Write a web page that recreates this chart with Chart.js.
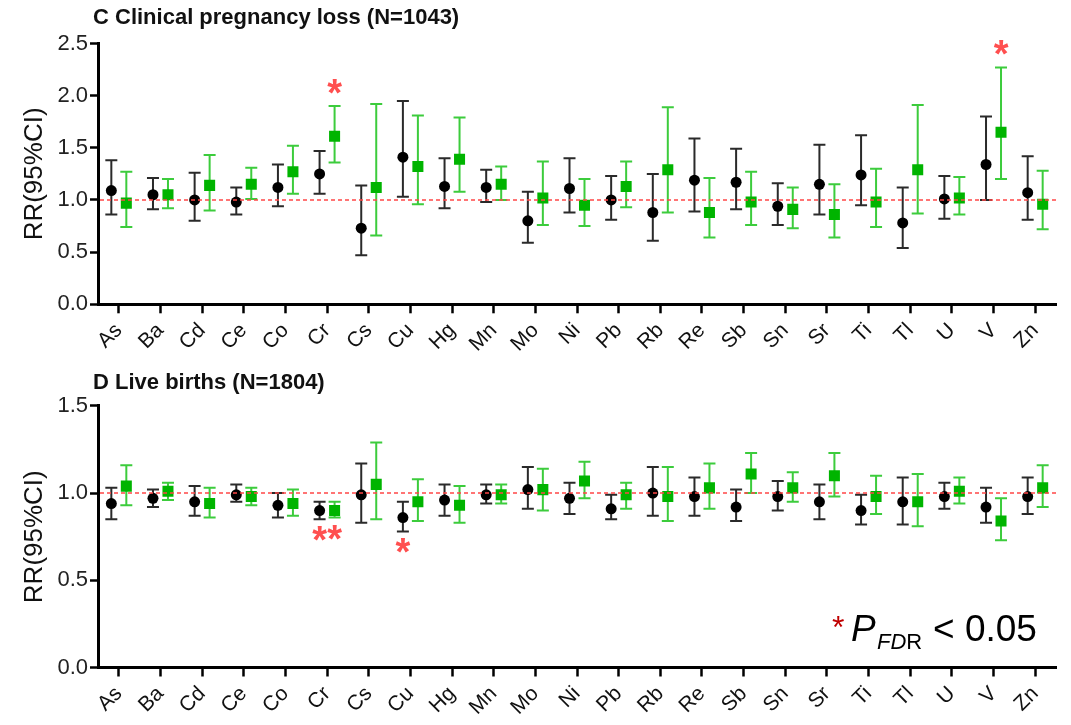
<!DOCTYPE html>
<html>
<head>
<meta charset="utf-8">
<script src="https://cdn.jsdelivr.net/npm/chart.js@4.4.1/dist/chart.umd.min.js"></script>
<style>
  html, body { margin: 0; padding: 0; background: #fff; }
  #wrap { position: relative; width: 1071px; height: 725px; }
  canvas { position: absolute; left: 0; }
</style>
</head>
<body>
<div id="wrap">
  <canvas id="lossChart" width="1071" height="365" style="top:0"></canvas>
  <canvas id="birthChart" width="1071" height="360" style="top:365px"></canvas>
</div>
<script>
const metals = ['As','Ba','Cd','Ce','Co','Cr','Cs','Cu','Hg','Mn','Mo','Ni','Pb','Rb','Re','Sb','Sn','Sr','Ti','Tl','U','V','Zn'];

// C: clinical pregnancy loss (black = model 1, green = model 2)
const lossRR     = [1.09,1.05,1.00,0.98,1.12,1.25,0.73,1.41,1.13,1.12,0.80,1.11,1.00,0.88,1.19,1.17,0.94,1.15,1.24,0.78,1.01,1.34,1.07];
const lossLow    = [0.86,0.91,0.80,0.86,0.94,1.06,0.47,1.03,0.92,0.98,0.59,0.88,0.81,0.61,0.89,0.91,0.76,0.86,0.95,0.54,0.82,1.00,0.81];
const lossHigh   = [1.38,1.21,1.26,1.12,1.34,1.47,1.14,1.95,1.40,1.29,1.08,1.40,1.23,1.25,1.59,1.49,1.16,1.53,1.62,1.12,1.23,1.80,1.42];
const lossAdjRR  = [0.97,1.05,1.14,1.15,1.27,1.61,1.12,1.32,1.39,1.15,1.02,0.95,1.13,1.29,0.88,0.98,0.91,0.86,0.98,1.29,1.02,1.65,0.96];
const lossAdjLow = [0.74,0.92,0.90,1.01,1.06,1.36,0.66,0.96,1.08,1.00,0.76,0.75,0.93,0.88,0.64,0.76,0.73,0.64,0.74,0.87,0.86,1.20,0.72];
const lossAdjHigh= [1.27,1.20,1.43,1.31,1.52,1.90,1.92,1.81,1.79,1.32,1.37,1.20,1.37,1.89,1.21,1.27,1.12,1.15,1.30,1.91,1.22,2.27,1.28];
const lossStars  = [['Cr','adj'], ['V','adj']];

// D: live births
const birthRR     = [0.94,0.97,0.95,0.99,0.93,0.90,0.99,0.86,0.96,0.99,1.02,0.97,0.91,1.00,0.98,0.92,0.98,0.95,0.90,0.95,0.98,0.92,0.98];
const birthLow    = [0.85,0.92,0.87,0.95,0.86,0.85,0.83,0.78,0.87,0.94,0.91,0.88,0.85,0.87,0.87,0.84,0.90,0.85,0.82,0.82,0.91,0.83,0.88];
const birthHigh   = [1.03,1.02,1.04,1.05,1.00,0.95,1.17,0.95,1.05,1.05,1.15,1.06,0.99,1.15,1.09,1.02,1.07,1.05,0.99,1.09,1.06,1.03,1.09];
const birthAdjRR  = [1.04,1.01,0.94,0.98,0.94,0.90,1.05,0.95,0.93,0.99,1.02,1.07,0.99,0.98,1.03,1.11,1.03,1.10,0.98,0.95,1.01,0.84,1.03];
const birthAdjLow = [0.93,0.96,0.86,0.93,0.87,0.86,0.85,0.84,0.83,0.94,0.90,0.97,0.91,0.84,0.91,1.00,0.95,0.98,0.88,0.81,0.94,0.73,0.92];
const birthAdjHigh= [1.16,1.06,1.03,1.03,1.02,0.95,1.29,1.08,1.04,1.05,1.14,1.18,1.06,1.15,1.17,1.23,1.12,1.23,1.10,1.11,1.09,0.97,1.16];
const birthStars  = [['Cr','crude'], ['Cr','adj'], ['Cu','crude']];

const FONT = '"Liberation Sans", Arial, sans-serif';
const DX = 0.18;

const points = (rr, lo, hi, shift) =>
  metals.map((m, i) => ({ x: i + shift, y: rr[i], lo: lo[i], hi: hi[i] }));

const errorBars = {
  id: 'errorBars',
  beforeDatasetsDraw(chart) {
    const { ctx, scales: { x, y } } = chart;
    chart.data.datasets.forEach(ds => {
      ctx.save();
      ctx.strokeStyle = ds.barColor;
      ctx.lineWidth = 2;
      ds.data.forEach(p => {
        const px = x.getPixelForValue(p.x);
        const top = y.getPixelForValue(p.hi), bot = y.getPixelForValue(p.lo);
        ctx.beginPath();
        ctx.moveTo(px, top); ctx.lineTo(px, bot);
        ctx.moveTo(px - 6, top); ctx.lineTo(px + 6, top);
        ctx.moveTo(px - 6, bot); ctx.lineTo(px + 6, bot);
        ctx.stroke();
      });
      ctx.restore();
    });
  }
};

const decorations = {
  id: 'decorations',
  afterDatasetsDraw(chart, args, opts) {
    const { ctx, chartArea: a, scales: { x, y } } = chart;
    // reference line at RR = 1
    ctx.save();
    ctx.strokeStyle = 'rgba(255,70,70,0.75)';
    ctx.lineWidth = 2;
    ctx.setLineDash([4, 3]);
    ctx.beginPath();
    ctx.moveTo(a.left + 2, y.getPixelForValue(1));
    ctx.lineTo(a.right, y.getPixelForValue(1));
    ctx.stroke();
    ctx.restore();

    // significance stars
    ctx.save();
    ctx.fillStyle = '#ff4f4f';
    ctx.font = 'bold 38px ' + FONT;
    ctx.textAlign = 'center';
    ctx.textBaseline = 'alphabetic';
    opts.stars.forEach(([metal, model]) => {
      const ds = chart.data.datasets[model === 'crude' ? 0 : 1];
      const p = ds.data[metals.indexOf(metal)];
      const px = x.getPixelForValue(p.x);
      const cy = opts.below ? y.getPixelForValue(p.lo) + 16 : y.getPixelForValue(p.hi) - 18;
      ctx.fillText('*', px, cy + 18);
    });
    ctx.restore();
  },
  afterDraw(chart, args, opts) {
    const { ctx, chartArea: a } = chart;
    ctx.save();
    ctx.fillStyle = '#111';
    ctx.font = 'bold 22px ' + FONT;
    ctx.textBaseline = 'alphabetic';
    ctx.fillText(opts.title, 93, 24);
    if (opts.legend) {
      const bx = a.right - 224, by = a.bottom - 27;
      ctx.fillStyle = '#c00000';
      ctx.font = '32px ' + FONT;
      ctx.fillText('*', bx, by - 3);
      ctx.fillStyle = '#000';
      ctx.font = 'italic 37px ' + FONT;
      ctx.fillText('P', bx + 19, by);
      ctx.font = 'italic 22px ' + FONT;
      ctx.fillText('FD', bx + 45, by + 8);
      const w = ctx.measureText('FD').width;
      ctx.font = '22px ' + FONT;
      ctx.fillText('R', bx + 45 + w, by + 8);
      ctx.font = '37px ' + FONT;
      ctx.fillText('< 0.05', bx + 101, by);
    }
    ctx.restore();
  }
};

function buildChart(id, cfg) {
  const datasets = [
    { data: points(cfg.rr, cfg.low, cfg.high, -DX), pointStyle: 'circle', pointRadius: 5.5,
      backgroundColor: '#000', borderWidth: 0, barColor: '#2a2a2a' },
    { data: points(cfg.adjRR, cfg.adjLow, cfg.adjHigh, DX), pointStyle: 'rect', pointRadius: 7.8,
      backgroundColor: '#00b400', borderWidth: 0, barColor: '#3ccc3c' }
  ];
  return new Chart(document.getElementById(id), {
    type: 'scatter',
    data: { datasets },
    plugins: [errorBars, decorations],
    options: {
      responsive: false,
      animation: false,
      events: [],
      layout: { padding: { top: cfg.padTop, right: 15, left: 0, bottom: 0 } },
      plugins: {
        legend: { display: false },
        tooltip: { enabled: false },
        decorations: { title: cfg.title, stars: cfg.stars, below: cfg.starsBelow, legend: cfg.legend }
      },
      scales: {
        x: {
          type: 'linear',
          min: -0.5,
          max: metals.length - 0.5,
          afterBuildTicks: s => { s.ticks = metals.map((m, i) => ({ value: i })); },
          afterFit: s => { s.height = cfg.xHeight; },
          ticks: {
            autoSkip: false, minRotation: 45, maxRotation: 45, padding: 5,
            color: '#111', font: { size: 21, family: FONT },
            callback: v => metals[v]
          },
          grid: { drawOnChartArea: false, tickLength: 9, tickWidth: 2.5, tickColor: '#000' },
          border: { color: '#000', width: 3 }
        },
        y: {
          min: 0,
          max: cfg.yMax,
          afterFit: s => { s.width = 98; },
          ticks: {
            stepSize: 0.5, padding: 2, color: '#222',
            font: { size: 22, family: FONT },
            callback: v => v.toFixed(1)
          },
          grid: { drawOnChartArea: false, tickLength: 8, tickWidth: 2.5, tickColor: '#000' },
          border: { color: '#000', width: 3 },
          title: {
            display: true, text: 'RR(95%CI)', color: '#111',
            font: { size: 26, family: FONT },
            padding: { top: 19, bottom: 0 }
          }
        }
      }
    }
  });
}

buildChart('lossChart', {
  rr: lossRR, low: lossLow, high: lossHigh,
  adjRR: lossAdjRR, adjLow: lossAdjLow, adjHigh: lossAdjHigh,
  stars: lossStars, starsBelow: false, yMax: 2.5,
  title: 'C Clinical pregnancy loss (N=1043)',
  padTop: 43.5, xHeight: 60.7, legend: false
});

buildChart('birthChart', {
  rr: birthRR, low: birthLow, high: birthHigh,
  adjRR: birthAdjRR, adjLow: birthAdjLow, adjHigh: birthAdjHigh,
  stars: birthStars, starsBelow: true, yMax: 1.5,
  title: 'D Live births (N=1804)',
  padTop: 40.9, xHeight: 57.5, legend: true
});
</script>
</body>
</html>
